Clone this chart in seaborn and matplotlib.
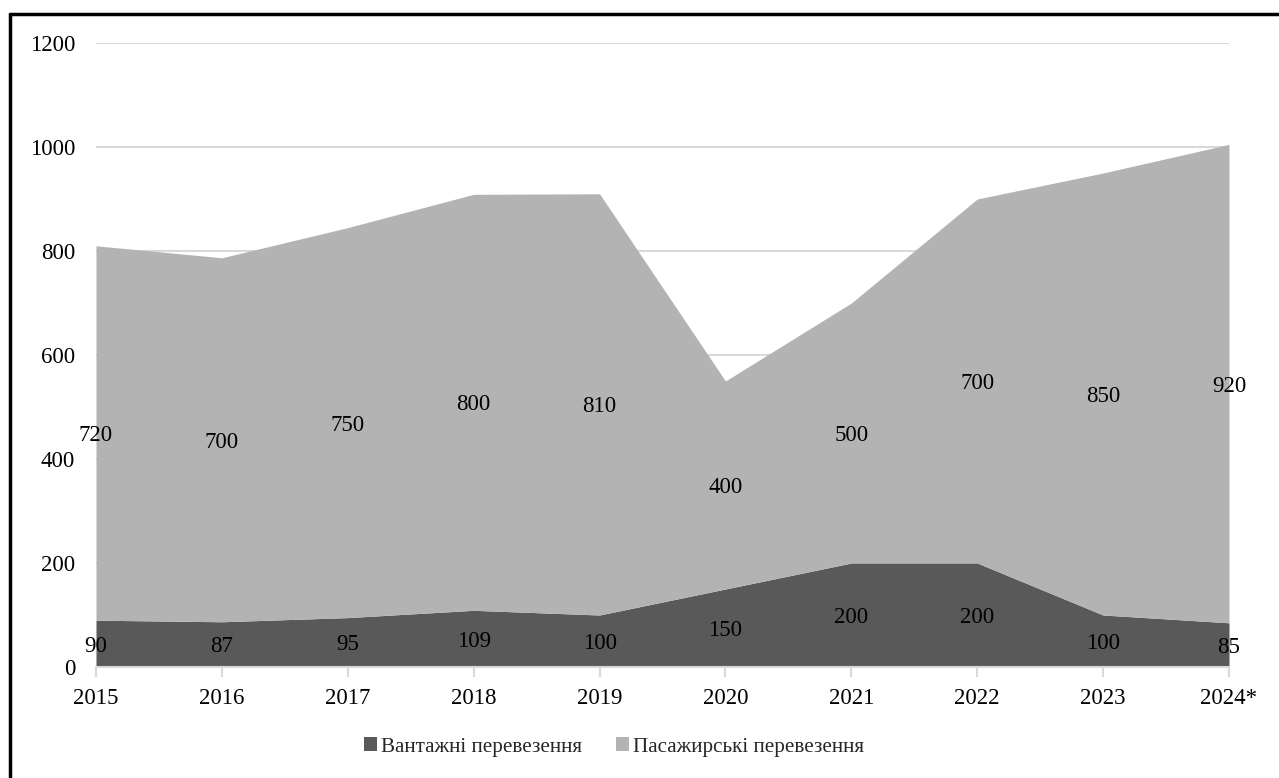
import numpy as np
import pandas as pd
import matplotlib
matplotlib.use("Agg")
import matplotlib.pyplot as plt
import seaborn as sns
from matplotlib.lines import Line2D
from matplotlib.patches import Patch

years = ["2015", "2016", "2017", "2018", "2019", "2020", "2021", "2022", "2023", "2024*"]
freight = [90, 87, 95, 109, 100, 150, 200, 200, 100, 85]
passenger = [720, 700, 750, 800, 810, 400, 500, 700, 850, 920]
series_names = ["Вантажні перевезення", "Пасажирські перевезення"]
y_ticks = [0, 200, 400, 600, 800, 1000, 1200]

sns.set_theme(style="white")
plt.rcParams["font.family"] = ["Liberation Serif", "DejaVu Serif"]

colors = ["#595959", "#b3b3b3"]
df = pd.DataFrame({"year": years, series_names[0]: freight, series_names[1]: passenger})
x = np.arange(len(years))

fig = plt.figure(figsize=(12.79, 7.78), dpi=100)
ax = fig.add_axes([96 / 1279, 1 - 667 / 778, (1229 - 96) / 1279, (667 - 43) / 778])

ax.stackplot(x, df[series_names[0]], df[series_names[1]], colors=colors,
             linewidth=0, zorder=2)

ax.set_xlim(0, len(years) - 1)
ax.set_ylim(0, 1200)
ax.set_yticks(y_ticks)
ax.set_yticklabels([str(v) for v in y_ticks], fontsize=16.5)
ax.set_xticks(x)
ax.set_xticklabels(years, fontsize=16.5)
ax.yaxis.grid(True, color="#d9d9d9", linewidth=1.5, zorder=0)
ax.xaxis.grid(False)
ax.set_axisbelow(True)
for side in ["top", "right", "left"]:
    ax.spines[side].set_visible(False)
ax.spines["bottom"].set_color("#d9d9d9")
ax.spines["bottom"].set_linewidth(1.5)
ax.tick_params(axis="x", which="both", bottom=True, length=7, width=1.5,
               color="#d9d9d9", pad=8, labelcolor="black")
ax.tick_params(axis="y", left=False, length=0, pad=15, labelcolor="black")

# value labels in the middle of each band
f = np.array(freight)
p = np.array(passenger)
for i in range(len(years)):
    ax.text(x[i], f[i] / 2, str(f[i]), ha="center", va="center_baseline", fontsize=16.5,
            color="black", zorder=5, clip_on=False)
    ax.text(x[i], f[i] + p[i] / 2, str(p[i]), ha="center", va="center_baseline", fontsize=16.5,
            color="black", zorder=5, clip_on=False)

handles = [Patch(facecolor=c, edgecolor="none") for c in colors]
leg = fig.legend(handles, series_names, loc="center", bbox_to_anchor=(614 / 1279, 1 - 747 / 778),
                 ncol=2, frameon=False, fontsize=15.2, handlelength=0.6, handleheight=0.6,
                 handletextpad=0.2, columnspacing=1.6)

# outer frame (left and top edges)
fig.add_artist(Line2D([9.5 / 1279, 9.5 / 1279], [0, 1 - 13.5 / 778], transform=fig.transFigure,
                      color="black", linewidth=2.5))
fig.add_artist(Line2D([9.5 / 1279, 1], [1 - 13.5 / 778, 1 - 13.5 / 778], transform=fig.transFigure,
                      color="black", linewidth=2.5))

fig.savefig("out.png", dpi=100)
